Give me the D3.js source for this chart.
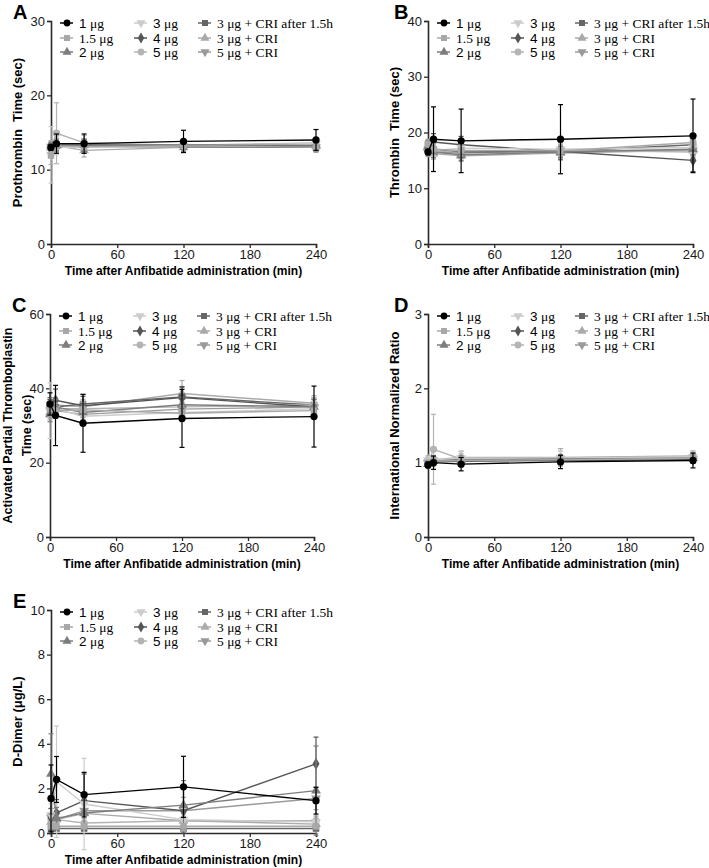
<!DOCTYPE html>
<html><head><meta charset="utf-8">
<script src="https://cdn.jsdelivr.net/npm/d3@7"></script>
<style>body{margin:0;background:#fff}svg{display:block}</style>
</head><body>
<svg id="chart" width="709" height="868"></svg>
<script>
const times = [0, 5, 30, 120, 240];
const seriesNames = ["1 μg","1.5 μg","2 μg","3 μg","4 μg","5 μg","3 μg + CRI after 1.5h","3 μg + CRI","5 μg + CRI"];
const xTicks = [0, 60, 120, 180, 240];

// Panel A: Prothrombin time (sec)
const ptMeans = [
  [13.0,13.5,13.5,13.8,14.0],
  [11.9,13.2,13.1,13.2,13.0],
  [13.0,13.3,13.3,13.3,13.3],
  [12.0,13.0,13.0,13.2,13.5],
  [13.2,13.4,13.3,13.3,13.2],
  [13.0,14.9,13.6,13.3,13.6],
  [13.0,13.2,13.4,13.1,13.0],
  [13.3,13.2,12.6,13.0,13.2],
  [13.1,13.0,13.1,13.0,13.0]];
const ptErr = [
  [0.4,1.3,1.3,1.5,1.4],
  [1.2,1.0,0.8,0.6,0.5],
  [0.5,0.8,0.8,0.6,0.6],
  [3.8,1.0,0.8,0.6,0.6],
  [0.5,0.8,0.8,0.6,0.6],
  [0.5,4.1,1.0,0.6,0.6],
  [0.5,0.6,0.6,0.6,0.6],
  [0.6,0.8,0.9,0.6,0.6],
  [0.5,0.6,0.6,0.6,0.6]];

// Panel B: Thrombin time (sec)
const ttMeans = [
  [16.5,18.8,18.5,18.8,19.4],
  [18.0,17.0,16.8,16.7,18.2],
  [17.5,16.5,16.0,16.5,17.0],
  [17.0,16.8,17.2,17.0,17.3],
  [17.5,18.3,17.8,16.6,15.0],
  [16.8,16.5,16.8,16.8,16.5],
  [17.8,17.0,16.5,16.6,17.8],
  [17.2,16.2,15.8,16.3,16.8],
  [16.5,16.5,16.3,16.8,16.8]];
const ttErr = [
  [0.5,5.8,5.7,6.2,6.6],
  [0.8,1.0,1.0,1.0,1.0],
  [0.8,1.0,1.0,1.0,1.0],
  [0.8,1.0,1.0,1.0,1.0],
  [1.0,1.5,1.5,1.5,2.0],
  [0.8,1.0,1.0,1.0,1.0],
  [0.8,1.0,1.0,1.0,1.0],
  [0.8,1.0,1.0,1.0,1.0],
  [0.8,1.0,1.0,1.0,1.0]];

// Panel C: APTT (sec)
const apttMeans = [
  [35.8,32.7,30.6,31.9,32.4],
  [34.5,34.0,34.2,33.3,34.0],
  [33.0,35.0,33.5,35.6,35.0],
  [34.0,34.5,32.5,33.5,34.5],
  [35.0,36.8,35.3,37.5,35.0],
  [35.0,34.5,34.5,35.0,35.5],
  [35.5,35.0,35.8,37.7,35.5],
  [33.5,35.5,35.0,38.6,36.0],
  [34.0,34.0,33.0,34.4,35.0]];
const apttErr = [
  [3.0,8.1,7.8,7.8,8.2],
  [2.0,2.0,2.0,2.0,2.0],
  [2.0,2.0,2.0,2.0,2.0],
  [7.5,2.5,2.5,2.5,2.0],
  [2.0,3.0,3.0,3.0,2.0],
  [2.0,2.0,2.0,2.0,2.0],
  [2.0,2.0,2.0,2.5,2.0],
  [2.0,2.0,2.0,3.5,2.0],
  [2.0,2.0,2.0,2.0,2.0]];

// Panel D: INR
const inrMeans = [
  [0.97,1.00,0.98,1.01,1.03],
  [1.00,1.02,1.03,1.04,1.06],
  [0.98,1.02,1.04,1.05,1.06],
  [1.03,1.04,1.06,1.06,1.08],
  [0.98,1.01,1.02,1.03,1.04],
  [1.00,1.18,1.05,1.06,1.08],
  [1.02,1.03,1.04,1.05,1.07],
  [1.05,1.04,1.07,1.07,1.09],
  [1.00,1.02,1.03,1.04,1.05]];
const inrErr = [
  [0.04,0.09,0.09,0.09,0.10],
  [0.04,0.05,0.05,0.05,0.05],
  [0.04,0.05,0.05,0.05,0.05],
  [0.05,0.06,0.10,0.10,0.06],
  [0.04,0.05,0.05,0.05,0.05],
  [0.05,0.47,0.10,0.10,0.08],
  [0.04,0.05,0.05,0.05,0.05],
  [0.04,0.05,0.05,0.12,0.05],
  [0.04,0.05,0.05,0.05,0.05]];

// Panel E: D-Dimer (μg/L)
const ddMeans = [
  [1.55,2.40,1.72,2.07,1.45],
  [0.30,0.30,0.30,0.30,0.30],
  [2.65,0.65,0.90,1.25,1.90],
  [0.80,2.30,1.30,0.60,0.50],
  [0.70,0.90,1.45,1.00,3.10],
  [0.60,0.60,0.45,0.55,0.55],
  [0.20,0.20,0.20,0.20,0.20],
  [0.50,0.60,0.88,0.55,0.40],
  [0.70,0.60,1.00,1.00,1.55]];
const ddErr = [
  [1.50,1.03,1.00,1.37,0.60],
  [0.10,0.10,0.10,0.10,0.10],
  [1.80,0.50,0.60,1.10,2.00],
  [0.50,2.50,2.05,0.50,0.30],
  [0.40,0.60,1.20,1.00,1.20],
  [0.30,0.30,0.20,0.20,0.20],
  [0.05,0.05,0.05,0.05,0.05],
  [0.30,0.30,0.40,0.30,0.20],
  [0.40,0.40,0.50,0.60,0.50]];

const seriesColors = ["#000000","#a8a8a8","#7d7d7d","#cccccc","#555555","#b4b4b4","#666666","#aaaaaa","#9a9a9a"];
const seriesShapes = ["circle","square","triangle","triangleDown","diamond","circle","square","triangle","triangleDown"];

const panels = [
  {letter:"A", means:ptMeans, err:ptErr, yMax:30, yTicks:[0,10,20,30], title:["Prothrombin  Time (sec)"], left:51, top:21, width:265, height:223},
  {letter:"B", means:ttMeans, err:ttErr, yMax:40, yTicks:[0,10,20,30,40], title:["Thrombin  Time (sec)"], left:428, top:21, width:265, height:223},
  {letter:"C", means:apttMeans, err:apttErr, yMax:60, yTicks:[0,20,40,60], title:["Activated Partial Thromboplastin","Time (sec)"], left:50, top:314, width:264, height:223},
  {letter:"D", means:inrMeans, err:inrErr, yMax:3, yTicks:[0,1,2,3], title:["International Normalized Ratio"], left:428, top:314, width:265, height:223},
  {letter:"E", means:ddMeans, err:ddErr, yMax:10, yTicks:[0,2,4,6,8,10], title:["D-Dimer (μg/L)"], left:51, top:610, width:265, height:223}
];

const svg = d3.select("#chart");
const sans = "Arial, 'Liberation Sans', Helvetica, sans-serif";
const serif = "'Times New Roman', 'Liberation Serif', serif";
const axisColor = "#2a2a2a";

function symbolFor(shape){
  return {circle:d3.symbolCircle, square:d3.symbolSquare, triangle:d3.symbolTriangle,
          triangleDown:d3.symbolTriangle, diamond:d3.symbolDiamond}[shape];
}
function drawMarker(g, shape, color, x, y, size){
  g.append("path")
    .attr("d", d3.symbol().type(symbolFor(shape)).size(size)())
    .attr("transform", `translate(${x},${y})` + (shape==="triangleDown" ? " rotate(180)" : ""))
    .attr("fill", color);
}

panels.forEach(p => {
  const g = svg.append("g").attr("transform", `translate(${p.left},${p.top})`);
  const x = d3.scaleLinear().domain([0,240]).range([0,p.width]);
  const y = d3.scaleLinear().domain([0,p.yMax]).range([p.height,0]);

  const xAxis = g.append("g").attr("transform", `translate(0,${p.height})`)
    .call(d3.axisBottom(x).tickValues(xTicks).tickSize(4).tickPadding(2).tickFormat(d3.format("d")));
  const yAxis = g.append("g")
    .call(d3.axisLeft(y).tickValues(p.yTicks).tickSize(4).tickPadding(2).tickFormat(d3.format("d")));
  [xAxis,yAxis].forEach(a => {
    a.select(".domain").attr("stroke", axisColor).attr("stroke-width", 1.6);
    a.selectAll(".tick line").attr("stroke", axisColor).attr("stroke-width", 1.3);
    a.selectAll(".tick text").attr("fill","#1a1a1a").style("font-family", sans).style("font-size","13px");
  });

  svg.append("text").attr("x", p.left - (p.letter==="A"||p.letter==="C"||p.letter==="E" ? 38 : 34)).attr("y", p.top - 2)
    .text(p.letter).style("font-family", sans).style("font-weight","bold").style("font-size","20px").attr("fill","#000");

  const cy = p.top + p.height/2;
  if (p.title.length === 1) {
    svg.append("text").attr("transform", `translate(${p.left-29},${cy}) rotate(-90)`)
      .attr("text-anchor","middle").text(p.title[0])
      .style("font-family", sans).style("font-weight","bold").style("font-size","13px").style("white-space","pre").attr("fill","#000");
  } else {
    p.title.forEach((t,i) => {
      svg.append("text").attr("transform", `translate(${p.left-38+i*19},${cy}) rotate(-90)`)
        .attr("text-anchor","middle").text(t)
        .style("font-family", sans).style("font-weight","bold").style("font-size","12.5px").attr("fill","#000");
    });
  }
  svg.append("text").attr("x", p.left + p.width/2).attr("y", p.top + p.height + 31)
    .attr("text-anchor","middle").text("Time after Anfibatide administration (min)")
    .style("font-family", sans).style("font-weight","bold").style("font-size","12px").attr("fill","#000");

  const line = d3.line().x((d,i)=>x(times[i])).y(d=>y(d));
  for (let s = seriesNames.length-1; s >= 0; s--) {
    const col = seriesColors[s];
    const sg = g.append("g");
    p.means[s].forEach((m,i) => {
      const e = p.err[s][i];
      const xi = x(times[i]);
      sg.append("line").attr("x1",xi).attr("x2",xi).attr("y1",y(m-e)).attr("y2",y(m+e))
        .attr("stroke",col).attr("stroke-width",1.2);
      [m-e, m+e].forEach(v => sg.append("line").attr("x1",xi-2.5).attr("x2",xi+2.5).attr("y1",y(v)).attr("y2",y(v))
        .attr("stroke",col).attr("stroke-width",1.2));
    });
    sg.append("path").datum(p.means[s]).attr("d", line).attr("fill","none")
      .attr("stroke",col).attr("stroke-width",1.4);
    p.means[s].forEach((m,i) => drawMarker(sg, seriesShapes[s], col, x(times[i]), y(m), 42));
  }

  const colX = [16, 90, 154];
  const rowY = [2, 17, 31];
  seriesNames.forEach((name, k) => {
    const c = Math.floor(k/3), r = k%3;
    const lx = colX[c], ly = rowY[r];
    const col = seriesColors[k];
    g.append("line").attr("x1",lx-7).attr("x2",lx+6).attr("y1",ly).attr("y2",ly).attr("stroke",col).attr("stroke-width",1.5);
    drawMarker(g, seriesShapes[k], col, lx, ly, 36);
    const t = g.append("text").attr("x", lx+12).attr("y", ly+4.5).attr("fill","#000").style("font-size","13.5px");
    const m = name.match(/^(\d)( μg)$/);
    if (m) {
      t.append("tspan").text(m[1]).style("font-family", sans);
      t.append("tspan").text(m[2]).style("font-family", serif).style("white-space","pre");
    } else {
      t.text(name).style("font-family", serif);
    }
  });
});
</script>
</body></html>
